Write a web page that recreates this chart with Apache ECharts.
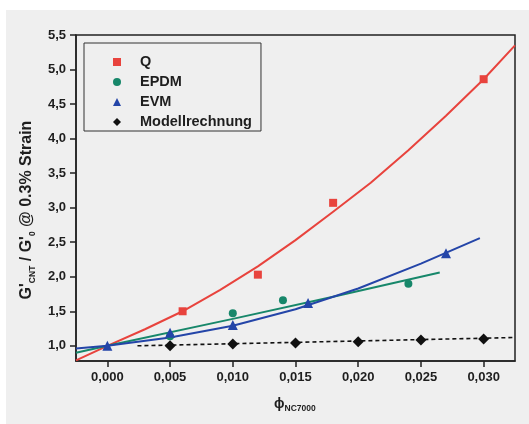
<!DOCTYPE html>
<html>
<head>
<meta charset="utf-8">
<script src="https://cdn.jsdelivr.net/npm/echarts@6/dist/echarts.min.js"></script>
<style>
html,body{margin:0;padding:0;background:#fff;}
#c{width:529px;height:424px;}
</style>
</head>
<body>
<div id="c"></div>
<script>
// ---- data ----
const xTickValues = [0, 0.005, 0.010, 0.015, 0.020, 0.025, 0.030];
const xTickLabels = ['0,000', '0,005', '0,010', '0,015', '0,020', '0,025', '0,030'];
const yTickValues = [1.0, 1.5, 2.0, 2.5, 3.0, 3.5, 4.0, 4.5, 5.0, 5.5];
const yTickLabels = ['1,0', '1,5', '2,0', '2,5', '3,0', '3,5', '4,0', '4,5', '5,0', '5,5'];

const seriesNames = ['Q', 'EPDM', 'EVM', 'Modellrechnung'];

const qX = [0.006, 0.012, 0.018, 0.030];
const qY = [1.50, 2.03, 3.07, 4.86];
const epdmX = [0.005, 0.010, 0.014, 0.024];
const epdmY = [1.14, 1.47, 1.66, 1.90];
const evmX = [0.000, 0.005, 0.010, 0.016, 0.027];
const evmY = [1.00, 1.19, 1.30, 1.62, 2.34];
const modX = [0.005, 0.010, 0.015, 0.020, 0.025, 0.030];
const modY = [1.00, 1.025, 1.04, 1.06, 1.085, 1.10];

// fitted curves
const qFitX = [-0.0025, 0.000, 0.003, 0.006, 0.009, 0.012, 0.015, 0.018, 0.021, 0.024, 0.027, 0.030, 0.0325];
const qFitY = [0.79, 1.00, 1.24, 1.50, 1.81, 2.15, 2.53, 2.94, 3.36, 3.83, 4.33, 4.86, 5.35];
const epdmFitX = [-0.0025, 0.000, 0.010, 0.018, 0.0265];
const epdmFitY = [0.90, 1.00, 1.39, 1.71, 2.06];
const evmFitX = [-0.0025, 0.000, 0.005, 0.010, 0.015, 0.020, 0.025, 0.0297];
const evmFitY = [0.96, 1.00, 1.12, 1.29, 1.53, 1.83, 2.19, 2.56];
const modFitX = [0.0024, 0.0325];
const modFitY = [1.00, 1.12];

const colors = {Q: '#e8433d', EPDM: '#17876a', EVM: '#2445a8', Modellrechnung: '#111111'};

function pairs(xs, ys) { return xs.map((x, i) => [x, ys[i]]); }

const FONT = '"Liberation Sans", Arial, sans-serif';
const TXT = '#1e1e1e';

const chart = echarts.init(document.getElementById('c'), null, {renderer: 'canvas'});

function lineSeries(name, xs, ys, color, dashed) {
  return {
    name: name, type: 'line', data: pairs(xs, ys),
    showSymbol: false, smooth: false,
    lineStyle: {color: color, width: dashed ? 1.6 : 2, type: dashed ? [4, 3] : 'solid', join: 'round'},
    silent: true, z: 2, animation: false
  };
}
function scatterSeries(name, xs, ys, symbol, size, color) {
  return {
    name: name, type: 'scatter', data: pairs(xs, ys),
    symbol: symbol, symbolSize: size,
    itemStyle: {color: color, opacity: 1},
    z: 3, animation: false
  };
}

chart.setOption({
  backgroundColor: '#efefef',
  animation: false,
  textStyle: {fontFamily: FONT},
  grid: {left: 76, top: 35, right: 14, bottom: 63, show: true,
         borderColor: '#222', borderWidth: 1.5, backgroundColor: 'transparent'},
  legend: {
    left: 84, top: 43, orient: 'vertical',
    data: seriesNames,
    borderColor: '#333', borderWidth: 1,
    padding: [11, 9, 1, 29],
    itemWidth: 8, itemHeight: 8, itemGap: 4,
    textStyle: {fontFamily: FONT, fontSize: 14.5, fontWeight: 'bold', color: TXT, lineHeight: 16, padding: [0, 0, 0, 14]},
    selectedMode: false
  },
  xAxis: {
    type: 'value', min: -0.0025, max: 0.0325,
    splitLine: {show: false},
    axisLine: {onZero: false, lineStyle: {color: '#222', width: 1.5}},
    axisTick: {show: true, length: 6, customValues: xTickValues, lineStyle: {color: '#222', width: 1.5}},
    axisLabel: {customValues: xTickValues, margin: 10, fontSize: 13, fontWeight: 'bold', color: TXT, fontFamily: FONT,
      formatter: v => { const i = xTickValues.findIndex(t => Math.abs(t - v) < 1e-9); return i >= 0 ? xTickLabels[i] : ''; }}
  },
  yAxis: {
    type: 'value', min: 0.78, max: 5.5,
    splitLine: {show: false},
    axisLine: {onZero: false, lineStyle: {color: '#222', width: 1.5}},
    axisTick: {show: true, length: 6, customValues: yTickValues, lineStyle: {color: '#222', width: 1.5}},
    axisLabel: {customValues: yTickValues, margin: 10, fontSize: 13, fontWeight: 'bold', color: TXT, fontFamily: FONT,
      formatter: v => { const i = yTickValues.findIndex(t => Math.abs(t - v) < 1e-9); return i >= 0 ? yTickLabels[i] : ''; }}
  },
  graphic: [
    {type: 'rect', shape: {x: 0, y: 0, width: 529, height: 10}, style: {fill: '#ffffff'}, silent: true},
    {type: 'rect', shape: {x: 0, y: 0, width: 6, height: 424}, style: {fill: '#ffffff'}, silent: true},
    {
      type: 'text', x: 27, y: 210, rotation: Math.PI / 2, silent: true,
      style: {
        text: "{m|G'}{s|CNT}{m| / G'}{s|0}{m| @ 0.3% Strain}",
        align: 'center', verticalAlign: 'middle', fill: TXT,
        rich: {
          m: {fontSize: 16, fontWeight: 'bold', fontFamily: FONT, fill: TXT, lineHeight: 20},
          s: {fontSize: 8.5, fontWeight: 'bold', fontFamily: FONT, fill: TXT, lineHeight: 20, verticalAlign: 'bottom', padding: [6, 0, 0, 0]}
        }
      }
    },
    {
      type: 'text', x: 274, y: 404, silent: true,
      style: {
        text: '{m|ϕ}{s|NC7000}',
        align: 'left', verticalAlign: 'middle', fill: TXT,
        rich: {
          m: {fontSize: 14, fontWeight: 'bold', fontFamily: FONT, fill: TXT, lineHeight: 18},
          s: {fontSize: 8.5, fontWeight: 'bold', fontFamily: FONT, fill: TXT, lineHeight: 18, verticalAlign: 'bottom', padding: [5, 0, 0, 0]}
        }
      }
    }
  ],
  series: [
    lineSeries('Q fit', qFitX, qFitY, colors.Q, false),
    lineSeries('EPDM fit', epdmFitX, epdmFitY, colors.EPDM, false),
    lineSeries('EVM fit', evmFitX, evmFitY, colors.EVM, false),
    lineSeries('Modell fit', modFitX, modFitY, colors.Modellrechnung, true),
    scatterSeries('Q', qX, qY, 'rect', 8, colors.Q),
    scatterSeries('EPDM', epdmX, epdmY, 'circle', 8, colors.EPDM),
    scatterSeries('EVM', evmX, evmY, 'triangle', 10, colors.EVM),
    scatterSeries('Modellrechnung', modX, modY, 'diamond', 11, colors.Modellrechnung)
  ]
});
</script>
</body>
</html>
